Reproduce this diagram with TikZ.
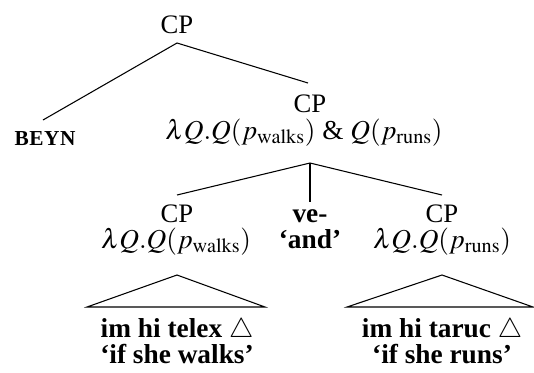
\documentclass[tikz,border=0pt]{standalone}
\usepackage{mathptmx}
\usepackage{fontspec}
\setmainfont{Liberation Serif}
\begin{document}
\begin{tikzpicture}[x=0.75pt,y=-0.75pt,
  lbl/.style={anchor=base,inner sep=0pt,font=\fontsize{20}{24}\selectfont},
  formula/.style={anchor=base,inner sep=0pt,font=\fontsize{20.5}{24}\selectfont},
  gloss/.style={anchor=base,inner sep=0pt,font=\fontsize{20.5}{24}\selectfont\bfseries},
  caps/.style={anchor=base,inner sep=0pt,font=\fontsize{16}{19}\selectfont\bfseries},
  branch/.style={line width=0.8pt,line join=miter},
]
\useasboundingbox (0,0) rectangle (534,372);

% labels of the tree
\node[lbl] (cp0) at (177,33) {CP};
\node[caps] (beyn) at (45,145) {B\kern0.4pt E\kern0.4pt Y\kern0.4pt N};
\node[lbl] (cp1) at (310,112) {CP};
\node[formula] (f1) at (304,139) {$\lambda Q.Q(p_{\mathrm{walks}})$ \& $Q(p_{\mathrm{runs}})$};

\node[lbl] (cpL) at (177,222) {CP};
\node[formula] (fL) at (176,248) {$\lambda Q.Q(p_{\mathrm{walks}})$};
\node[gloss] (ve) at (310,222) {ve-};
\node[gloss] (andg) at (310,248) {‘and’};
\node[lbl] (cpR) at (442,222) {CP};
\node[formula] (fR) at (442,248) {$\lambda Q.Q(p_{\mathrm{runs}})$};

\node[gloss] (tL) at (177,337) {im hi telex $\triangle$};
\node[gloss] (gL) at (177,363) {‘if she walks’};
\node[gloss] (tR) at (442,337) {im hi taruc $\triangle$};
\node[gloss] (gR) at (442,363) {‘if she runs’};

% branches
\draw[branch] ([shift={(-2,-25)}]beyn.base) -- ([shift={(0,10)}]cp0.base)
  -- ([shift={(-2,-29)}]cp1.base);
\draw[branch] ([shift={(0,-27)}]cpL.base) -- ([shift={(6,24)}]f1.base)
  -- ([shift={(0,-27)}]cpR.base);
\draw[branch] ([shift={(6,24)}]f1.base) -- ([shift={(0,-20)}]ve.base);

% roofs over the unanalysed clauses
\draw[branch] ([shift={(1,27)}]fL.base) -- ([shift={(88,-30)}]tL.base)
  -- ([shift={(-90,-30)}]tL.base) -- cycle;
\draw[branch] ([shift={(0,27)}]fR.base) -- ([shift={(91,-30)}]tR.base)
  -- ([shift={(-95,-30)}]tR.base) -- cycle;
\end{tikzpicture}
\end{document}
